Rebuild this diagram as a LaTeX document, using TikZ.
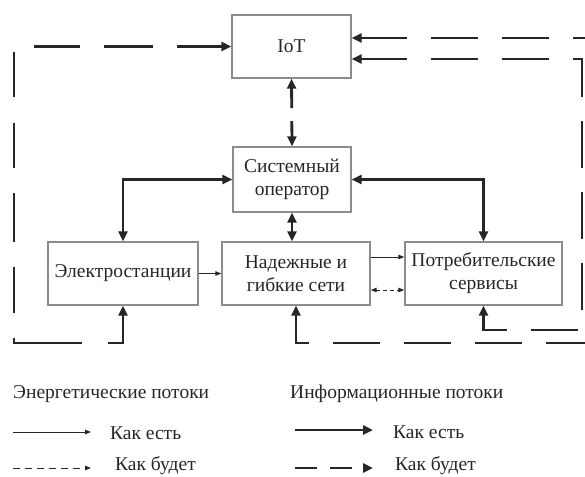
\documentclass[tikz,border=0pt]{standalone}
\usepackage{fontspec}
\setmainfont{Liberation Serif}
\usetikzlibrary{arrows.meta,calc}
\begin{document}
\begin{tikzpicture}[x=1pt,y=-1pt,
  box/.style={draw=black!45, line width=1.4pt, fill=white, align=center,
    inner sep=0pt, text=black!85, font=\fontsize{19.5}{23}\selectfont},
  info/.style={line width=2.8pt, black!85},
  infotip/.style={{Triangle[length=10pt,width=9pt]}-{Triangle[length=10pt,width=9pt]}},
  infoend/.style={-{Triangle[length=10pt,width=9pt]}},
  ldash/.style={dash pattern=on 47pt off 24pt},
  energy/.style={line width=1pt, black!85},
  etip/.style={-{Triangle[length=6pt,width=4.5pt]}},
  etips/.style={{Triangle[length=6pt,width=4.5pt]}-{Triangle[length=6pt,width=4.5pt]}},
  legtext/.style={anchor=west, inner sep=0pt, text=black!85, font=\fontsize{19.5}{23}\selectfont}
]
\useasboundingbox (0,0) rectangle (585,476);
\clip (0,0) rectangle (585,476);

% boxes
\node[box, minimum width=119pt, minimum height=63pt] (iot) at (291.5,46.5) {IoT};
\node[box, minimum width=118pt, minimum height=65pt] (sysop) at (292,179.5) {Системный\\оператор};
\node[box, minimum width=150pt, minimum height=63pt] (electro) at (123,273.5) {Электростанции};
\node[box, minimum width=148pt, minimum height=63pt] (nadezh) at (296,273.5) {Надежные и\\гибкие сети};
\node[box, minimum width=157pt, minimum height=63pt] (cons) at (483.5,273.5) {Потребительские\\сервисы};

% information flows, as is
\draw[info, infotip] (sysop.south) -- (sysop.south |- nadezh.north);
\draw[info, infotip] (sysop.west) -| (electro.north);
\draw[info, infotip] (sysop.east) -| (cons.north);

% information flows, to be
\draw[info, infotip, dash pattern=on 20pt off 13pt] (iot.south) -- (sysop.north);

\coordinate (lt) at (14,46.5);
\coordinate (lb) at (14,343);
\draw[info, infotip, dash pattern=on 45pt off 24pt on 49pt off 24pt on 46pt off 25pt on 45pt off 26pt on 45pt off 25pt on 49pt off 25pt on 46pt off 25pt on 73pt off 26pt on 80pt off 10pt]
  (iot.west) -- (lt) -- (lb) -| (electro.south);

\coordinate (ct) at (582,59);
\coordinate (cb) at (582,330);
\draw[info, infotip, ldash, dash phase=1pt] ($(iot.east)+(0,12.5)$) -- (ct) -- (cb) -| (cons.south);

\coordinate (ot) at (608,38);
\coordinate (ob) at (608,343);
\draw[info, infotip, ldash, dash phase=1pt] ($(iot.east)+(0,-8.5)$) -- (ot) -- (ob) -| (nadezh.south);

% energy flows
\draw[energy, etip] (electro.east) -- (nadezh.west);
\draw[energy, etip] ($(nadezh.east)+(0,-16.5)$) -- ($(cons.west)+(0,-16.5)$);
\draw[energy, etips, dash pattern=on 4pt off 3pt] ($(nadezh.east)+(0,16.5)$) -- ($(cons.west)+(0,16.5)$);

% legend
\node[legtext] (lh1) at (13,394) {Энергетические потоки};
\node[legtext] (lh2) at (290,394) {Информационные потоки};

\coordinate (e1a) at (13,432);
\coordinate (e1b) at (91,432);
\draw[energy, etip] (e1a) -- (e1b);
\node[legtext] (e1t) at (110,433) {Как есть};

\coordinate (e2a) at (13,468);
\coordinate (e2b) at (91,468);
\draw[energy, etip, dash pattern=on 7pt off 5pt] (e2a) -- (e2b);
\node[legtext] (e2t) at (115,466) {Как будет};

\coordinate (i1a) at (295,430);
\coordinate (i1b) at (373,430);
\draw[info, infoend] (i1a) -- (i1b);
\node[legtext] (i1t) at (393,432) {Как есть};

\coordinate (i2a) at (295,468);
\coordinate (i2b) at (373,468);
\draw[info, infoend, dash pattern=on 22pt off 13pt] (i2a) -- (i2b);
\node[legtext] (i2t) at (395,466) {Как будет};
\end{tikzpicture}
\end{document}
